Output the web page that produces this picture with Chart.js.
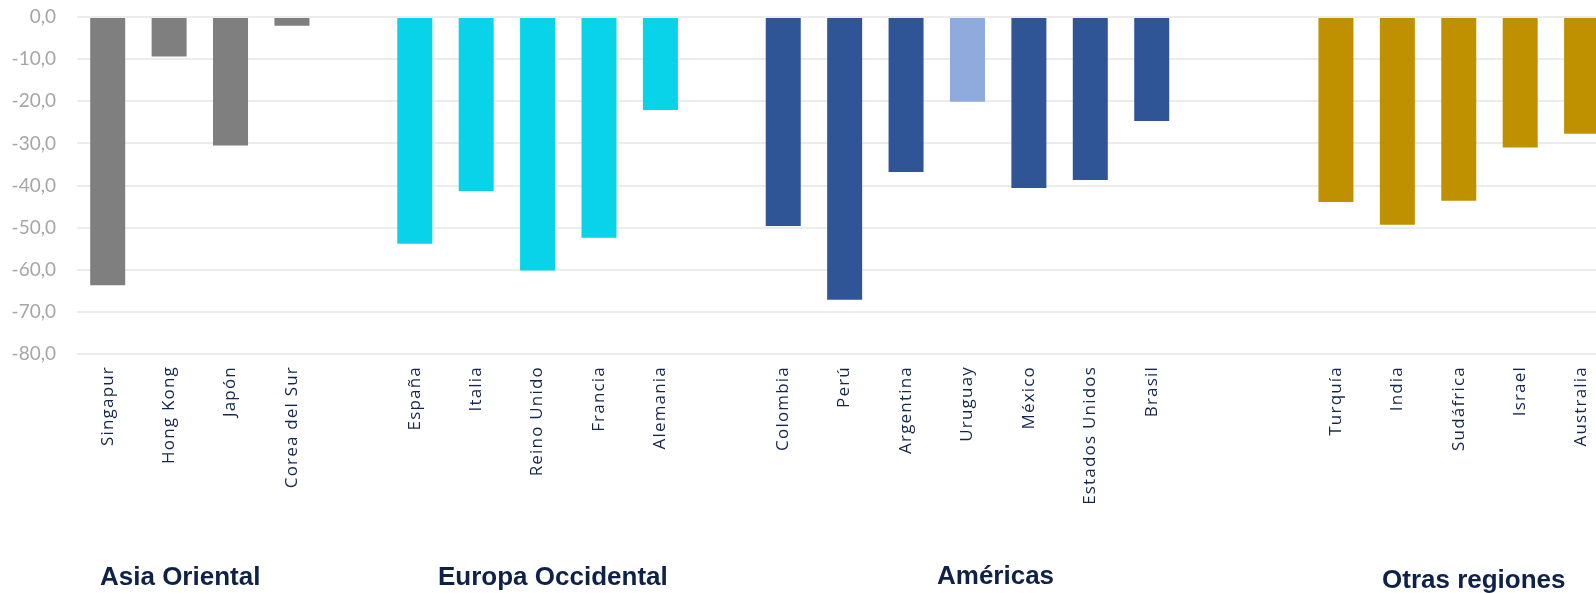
<!DOCTYPE html>
<html>
<head>
<meta charset="utf-8">
<script src="https://cdn.jsdelivr.net/npm/chart.js@4.4.1/dist/chart.umd.min.js"></script>
<style>
  html, body { margin: 0; padding: 0; background: #ffffff; overflow: hidden; }
  #wrap { position: relative; width: 1614px; height: 593px; }
</style>
</head>
<body>
<div id="wrap"><canvas id="c"></canvas></div>
<script>
// ---- data ----
const asiaLabels = ['Singapur', 'Hong Kong', 'Japón', 'Corea del Sur'];
const asiaValues = [-63.7, -9.4, -30.5, -2.1];
const europaLabels = ['España', 'Italia', 'Reino Unido', 'Francia', 'Alemania'];
const europaValues = [-53.8, -41.3, -60.2, -52.4, -22.1];
const americasLabels = ['Colombia', 'Perú', 'Argentina', 'Uruguay', 'México', 'Estados Unidos', 'Brasil'];
const americasValues = [-49.6, -67.1, -36.8, -20.1, -40.6, -38.7, -24.7];
const otrasLabels = ['Turquía', 'India', 'Sudáfrica', 'Israel', 'Australia'];
const otrasValues = [-43.9, -49.3, -43.6, -31.0, -27.7];
const groupTitles = ['Asia Oriental', 'Europa Occidental', 'Américas', 'Otras regiones'];
const yTicks = [0, -10, -20, -30, -40, -50, -60, -70, -80];
const highlighted = 'Uruguay';

// ---- styles ----
const groupColors = ['#7f7f7f', '#08d3e8', '#2f5597', '#bf9000'];
const highlightColor = '#8faadc';
const gapsAfter = [1, 1, 2];
const titleX = [100, 438, 937, 1382];
const titleY = [585, 585, 584, 588];

const groups = [
  [asiaLabels, asiaValues],
  [europaLabels, europaValues],
  [americasLabels, americasValues],
  [otrasLabels, otrasValues]
];
const labels = [], values = [], colors = [];
groups.forEach((g, gi) => {
  g[0].forEach((lab, i) => {
    labels.push(lab);
    values.push(g[1][i]);
    colors.push(lab === highlighted ? highlightColor : groupColors[gi]);
  });
  if (gi < gapsAfter.length) {
    for (let k = 0; k < gapsAfter[gi]; k++) { labels.push(''); values.push(null); colors.push('rgba(0,0,0,0)'); }
  }
});

const spacingPlugin = {
  id: 'xLetterSpacing',
  afterUpdate(chart) {
    const sc = chart.scales.x;
    if (sc && !sc._lsWrapped) {
      const orig = sc.drawLabels;
      sc.drawLabels = function(area) {
        const ctx = this.ctx;
        ctx.save();
        ctx.letterSpacing = '1.2px';
        orig.call(this, area);
        ctx.restore();
      };
      sc._lsWrapped = true;
    }
  }
};

const titlesPlugin = {
  id: 'groupTitles',
  afterDraw(chart) {
    const ctx = chart.ctx;
    ctx.save();
    ctx.font = 'bold 26px "Liberation Sans", Arial, sans-serif';
    ctx.fillStyle = '#0e2148';
    ctx.textAlign = 'left';
    ctx.textBaseline = 'alphabetic';
    groupTitles.forEach((t, i) => ctx.fillText(t, titleX[i], titleY[i]));
    ctx.restore();
  }
};

new Chart(document.getElementById('c'), {
  type: 'bar',
  data: {
    labels: labels,
    datasets: [{
      data: values,
      backgroundColor: colors,
      borderWidth: 0,
      barPercentage: 0.57,
      categoryPercentage: 1.0
    }]
  },
  options: {
    responsive: true,
    maintainAspectRatio: false,
    animation: false,
    layout: { padding: { top: 17, left: 0, right: 0, bottom: 0 } },
    plugins: { legend: { display: false }, tooltip: { enabled: false } },
    scales: {
      x: {
        grid: { display: false, drawTicks: false },
        border: { display: false },
        ticks: {
          autoSkip: false,
          minRotation: 90,
          maxRotation: 90,
          padding: 12,
          color: '#16264a',
          font: { family: '"Open Sans", sans-serif', size: 17 }
        },
        afterFit(scale) { scale.height = 239; }
      },
      y: {
        min: -80,
        max: 0,
        afterBuildTicks(scale) { scale.ticks = yTicks.map(v => ({ value: v })); },
        grid: { color: '#ececec', lineWidth: 2, drawTicks: true, tickLength: 21, tickColor: 'rgba(0,0,0,0)' },
        border: { display: false },
        ticks: {
          padding: 0,
          color: '#a6a6a6',
          font: { family: 'Lato, sans-serif', size: 19 },
          callback: (v) => Number(v).toFixed(1).replace('.', ',')
        },
        afterFit(scale) { scale.width = 77; }
      }
    }
  },
  plugins: [spacingPlugin, titlesPlugin]
});
</script>
</body>
</html>
